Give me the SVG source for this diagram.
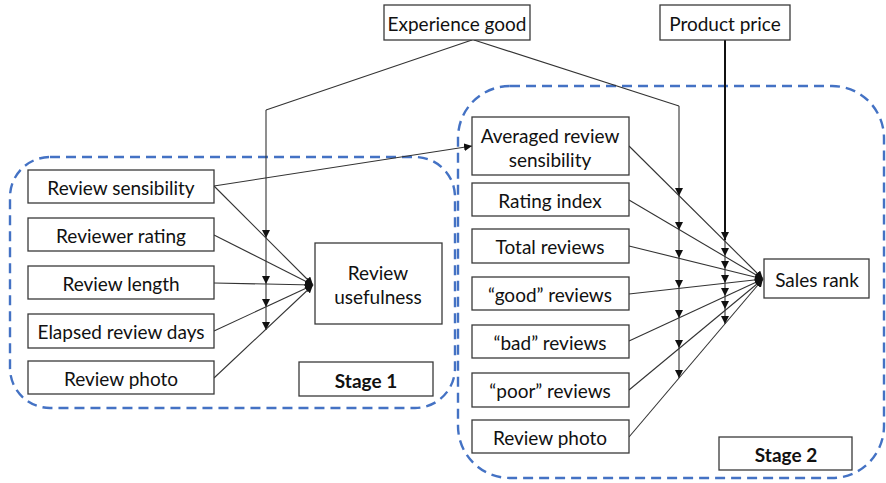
<svg xmlns="http://www.w3.org/2000/svg" width="886" height="483" viewBox="0 0 886 483">
  <style>
    .box { fill: #fff; stroke: #3a3a3a; stroke-width: 1.3; }
    .lbl { font-family: Lato, "Liberation Sans", sans-serif; font-size: 19px; fill: #111; text-anchor: middle; dominant-baseline: central; }
    .bold { font-weight: bold; }
    .stage { fill: none; stroke: #4472C4; stroke-width: 2.4; stroke-dasharray: 10 6; }
    .ln { fill: none; stroke: #333; stroke-width: 1.1; }
    .thick { fill: none; stroke: #111; stroke-width: 2; }
  </style>
  <defs>
    <marker id="tri" markerWidth="9" markerHeight="8" refX="8" refY="4" orient="auto" markerUnits="userSpaceOnUse">
      <path d="M0,0 L8,4 L0,8 Z" fill="#111"/>
    </marker>
  </defs>
  <rect width="886" height="483" fill="#fff"/>

  <!-- stage outlines -->
  <rect class="stage" x="10" y="157" width="445" height="251" rx="40"/>
  <rect class="stage" x="458" y="86" width="426" height="392" rx="52"/>

  <!-- connectors -->
  <g id="connectors">
    <!-- moderator: experience good -->
    <path class="ln" d="M472,40 L266,110"/>
    <path class="ln" d="M474,40 L679,106"/>
    <line class="ln" x1="266" y1="110" x2="266" y2="238" marker-end="url(#tri)"/>
    <line class="ln" x1="266" y1="238" x2="266" y2="284" marker-end="url(#tri)"/>
    <line class="ln" x1="266" y1="284" x2="266" y2="307" marker-end="url(#tri)"/>
    <line class="ln" x1="266" y1="307" x2="266" y2="330" marker-end="url(#tri)"/>

    <line class="ln" x1="679" y1="106" x2="679" y2="196" marker-end="url(#tri)"/>
    <line class="ln" x1="679" y1="196" x2="679" y2="230" marker-end="url(#tri)"/>
    <line class="ln" x1="679" y1="230" x2="679" y2="258" marker-end="url(#tri)"/>
    <line class="ln" x1="679" y1="258" x2="679" y2="288" marker-end="url(#tri)"/>
    <line class="ln" x1="679" y1="288" x2="679" y2="318" marker-end="url(#tri)"/>
    <line class="ln" x1="679" y1="318" x2="679" y2="348" marker-end="url(#tri)"/>
    <line class="ln" x1="679" y1="348" x2="679" y2="378" marker-end="url(#tri)"/>

    <!-- moderator: product price -->
    <line class="thick" x1="725" y1="40" x2="725" y2="240" marker-end="url(#tri)"/>
    <line class="ln" x1="725" y1="240" x2="725" y2="256" marker-end="url(#tri)"/>
    <line class="ln" x1="725" y1="256" x2="725" y2="269" marker-end="url(#tri)"/>
    <line class="ln" x1="725" y1="269" x2="725" y2="283" marker-end="url(#tri)"/>
    <line class="ln" x1="725" y1="283" x2="725" y2="296" marker-end="url(#tri)"/>
    <line class="ln" x1="725" y1="296" x2="725" y2="309" marker-end="url(#tri)"/>
    <line class="ln" x1="725" y1="309" x2="725" y2="324" marker-end="url(#tri)"/>

    <!-- stage 1 paths -->
    <line class="ln" x1="214" y1="186" x2="313" y2="285" marker-end="url(#tri)"/>
    <line class="ln" x1="214" y1="235" x2="313" y2="285" marker-end="url(#tri)"/>
    <line class="ln" x1="214" y1="283" x2="313" y2="285" marker-end="url(#tri)"/>
    <line class="ln" x1="214" y1="331" x2="313" y2="285" marker-end="url(#tri)"/>
    <line class="ln" x1="214" y1="378" x2="313" y2="285" marker-end="url(#tri)"/>
    <line class="ln" x1="214" y1="186" x2="472" y2="146" marker-end="url(#tri)"/>

    <!-- stage 2 paths -->
    <line class="ln" x1="629" y1="146" x2="763" y2="279" marker-end="url(#tri)"/>
    <line class="ln" x1="629" y1="200" x2="763" y2="279" marker-end="url(#tri)"/>
    <line class="ln" x1="629" y1="246" x2="763" y2="279" marker-end="url(#tri)"/>
    <line class="ln" x1="629" y1="294" x2="763" y2="279" marker-end="url(#tri)"/>
    <line class="ln" x1="629" y1="341" x2="763" y2="279" marker-end="url(#tri)"/>
    <line class="ln" x1="629" y1="390" x2="763" y2="279" marker-end="url(#tri)"/>
    <line class="ln" x1="629" y1="437" x2="763" y2="279" marker-end="url(#tri)"/>
  </g>

  <!-- top moderators -->
  <g id="experience-good"><rect class="box" x="384" y="5" width="146" height="35"/><text class="lbl" x="457" y="23">Experience good</text></g>
  <g id="product-price"><rect class="box" x="660" y="5" width="130" height="35"/><text class="lbl" x="725" y="23">Product price</text></g>

  <!-- stage 1 nodes -->
  <g id="review-sensibility"><rect class="box" x="28" y="170" width="186" height="33"/><text class="lbl" x="121" y="187">Review sensibility</text></g>
  <g id="reviewer-rating"><rect class="box" x="28" y="218" width="186" height="33"/><text class="lbl" x="121" y="235">Reviewer rating</text></g>
  <g id="review-length"><rect class="box" x="28" y="266" width="186" height="33"/><text class="lbl" x="121" y="283">Review length</text></g>
  <g id="elapsed-days"><rect class="box" x="28" y="314" width="186" height="34"/><text class="lbl" x="121" y="331">Elapsed review days</text></g>
  <g id="review-photo-1"><rect class="box" x="28" y="361" width="186" height="33"/><text class="lbl" x="121" y="378">Review photo</text></g>
  <g id="review-usefulness"><rect class="box" x="315" y="243" width="127" height="81"/><text class="lbl" x="378" y="272">Review</text><text class="lbl" x="378" y="296">usefulness</text></g>
  <g id="stage-1"><rect class="box" x="299" y="362" width="134" height="34"/><text class="lbl bold" x="366" y="380">Stage 1</text></g>

  <!-- stage 2 nodes -->
  <g id="avg-review-sensibility"><rect class="box" x="472" y="117" width="157" height="58"/><text class="lbl" x="550" y="135">Averaged review</text><text class="lbl" x="550" y="159">sensibility</text></g>
  <g id="rating-index"><rect class="box" x="472" y="183" width="157" height="33"/><text class="lbl" x="550" y="200">Rating index</text></g>
  <g id="total-reviews"><rect class="box" x="472" y="229" width="157" height="34"/><text class="lbl" x="550" y="246">Total reviews</text></g>
  <g id="good-reviews"><rect class="box" x="472" y="277" width="157" height="33"/><text class="lbl" x="550" y="294">“good” reviews</text></g>
  <g id="bad-reviews"><rect class="box" x="472" y="325" width="157" height="33"/><text class="lbl" x="550" y="342">“bad” reviews</text></g>
  <g id="poor-reviews"><rect class="box" x="472" y="373" width="157" height="34"/><text class="lbl" x="550" y="390">“poor” reviews</text></g>
  <g id="review-photo-2"><rect class="box" x="472" y="420" width="157" height="33"/><text class="lbl" x="550" y="437">Review photo</text></g>
  <g id="sales-rank"><rect class="box" x="764" y="259" width="105" height="39"/><text class="lbl" x="817" y="279">Sales rank</text></g>
  <g id="stage-2"><rect class="box" x="719" y="437" width="133" height="33"/><text class="lbl bold" x="786" y="454">Stage 2</text></g>
</svg>
